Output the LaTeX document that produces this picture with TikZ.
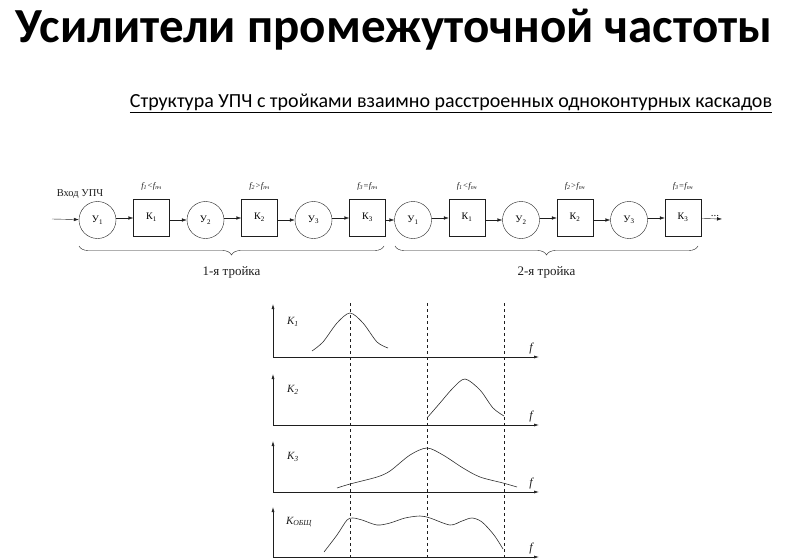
\documentclass[tikz,border=0pt]{standalone}
\usepackage{fontspec}
\setmainfont{Liberation Serif}
\newfontfamily\slidefont{Carlito}
\usetikzlibrary{arrows.meta, decorations.pathreplacing}
\definecolor{inkdark}{HTML}{1E1E1E}
\definecolor{curvegray}{HTML}{2E2E2E}

\newcommand{\fcond}[2]{\itshape f\textsubscript{#1}#2f\textsubscript{пч}}

\tikzset{
  amp/.style={circle, draw=inkdark, thin, minimum size=37pt, inner sep=0pt,
    font=\fontsize{10}{11}\selectfont},
  filt/.style={draw=inkdark, thin, minimum width=36pt, minimum height=37pt,
    inner sep=0pt, font=\fontsize{10}{11}\selectfont},
  sig/.style={-{Latex[length=5pt, width=3.5pt]}, inkdark, thin},
  flab/.style={font=\fontsize{8.5}{9}\selectfont, inkdark},
  axis/.style={-{Latex[length=5pt, width=3pt]}, inkdark, semithick},
  resp/.style={curvegray, semithick},
  tbrace/.style={decorate, decoration={brace, mirror, amplitude=9pt}, inkdark, thin},
  trio/.style={font=\fontsize{13}{14}\selectfont, inkdark}
}

\begin{document}
\begin{tikzpicture}[x=1pt, y=-1pt, >=Latex]
  \useasboundingbox (0,0) rectangle (792,559);

  % headings
  \node (title) at (394,30)
    {\slidefont\bfseries\fontsize{49}{56}\selectfont Усилители промежуточной частоты};
  \node (subtitle) at (451,103)
    {\slidefont\fontsize{20}{24}\selectfont\underline{Структура УПЧ с тройками взаимно расстроенных одноконтурных каскадов}};

  % two triples of stages
  \foreach \t/\xo in {1/97.5, 2/413} {
    \foreach \i [evaluate=\i as \xa using \xo+108*(\i-1)] in {1,2,3} {
      \node[amp] (u\t\i) at (\xa,220) {У\textsubscript{\i}};
      \node[filt] (k\t\i) at (\xa+54,218) {\raisebox{3pt}{К\textsubscript{\i}}};
    }
    \node[flab] (c\t1) at (k\t1 |- 0,186) {\fcond{1}{<}};
    \node[flab] (c\t2) at (k\t2 |- 0,186) {\fcond{2}{>}};
    \node[flab] (c\t3) at (k\t3 |- 0,186) {\fcond{3}{=}};
  }

  \coordinate (in) at (52,219);
  \coordinate (out) at (722,219);
  \node[font=\fontsize{10.5}{11}\selectfont, inkdark] (inlab) at (80,194) {Вход УПЧ};
  \node[font=\fontsize{11}{12}\selectfont, inkdark] (dots) at (715,216) {...};

  \draw[sig] (in) -- (u11);
  \foreach \a/\b in {u11/k11, k11/u12, u12/k12, k12/u13, u13/k13, k13/u21,
                     u21/k21, k21/u22, u22/k22, k22/u23, u23/k23} {
    \draw[sig] (\a.east |- \b) -- (\b);
  }
  \draw[sig] (k23) -- (out);

  \draw[tbrace] (79,246) -- (384,246)
    node[midway, below=17pt, trio] (t1) {1-я тройка};
  \draw[tbrace] (395,246) -- (698,246)
    node[midway, below=17pt, trio] (t2) {2-я тройка};

  % frequency responses
  \foreach \base/\top/\lx/\lab [count=\n] in {
    357/304/293/{K\textsubscript{1}},
    425/374/293/{K\textsubscript{2}},
    492/441/293/{K\textsubscript{3}},
    557/507/299/{K\textsubscript{ОБЩ}}
  } {
    \draw[axis] (273,\base) -- (273,\top);
    \draw[axis] (273,\base) -- (539,\base);
    \node[font=\itshape\fontsize{11}{12}\selectfont, inkdark] (K\n) at (\lx,\base-35) {\lab};
    \node[font=\itshape\fontsize{12}{13}\selectfont, inkdark] (f\n) at (531,\base-8) {f};
  }

  \foreach \x in {350,427,504} {
    \draw[dashed, inkdark] (\x,303) -- (\x,559);
  }

  \draw[resp] plot[smooth] coordinates {(312,351) (323,342) (337,323) (350,313)
    (363,323) (377,342) (388,348)};
  \draw[resp] plot[smooth] coordinates {(427,418) (440,403) (453,388) (465,379)
    (480,390) (493,408) (504,416)};
  \draw[resp] plot[smooth] coordinates {(337,488) (350,484) (377,477) (390,471)
    (410,455) (427,448) (443,455) (463,468) (480,477) (503,483) (517,487)};
  \draw[resp] plot[smooth] coordinates {(324,552) (337,535) (347,520) (353,518)
    (362,520) (377,525) (390,523) (405,518) (420,516) (430,518) (450,525)
    (462,521) (472,518) (482,522) (494,535) (503,549)};
\end{tikzpicture}
\end{document}
